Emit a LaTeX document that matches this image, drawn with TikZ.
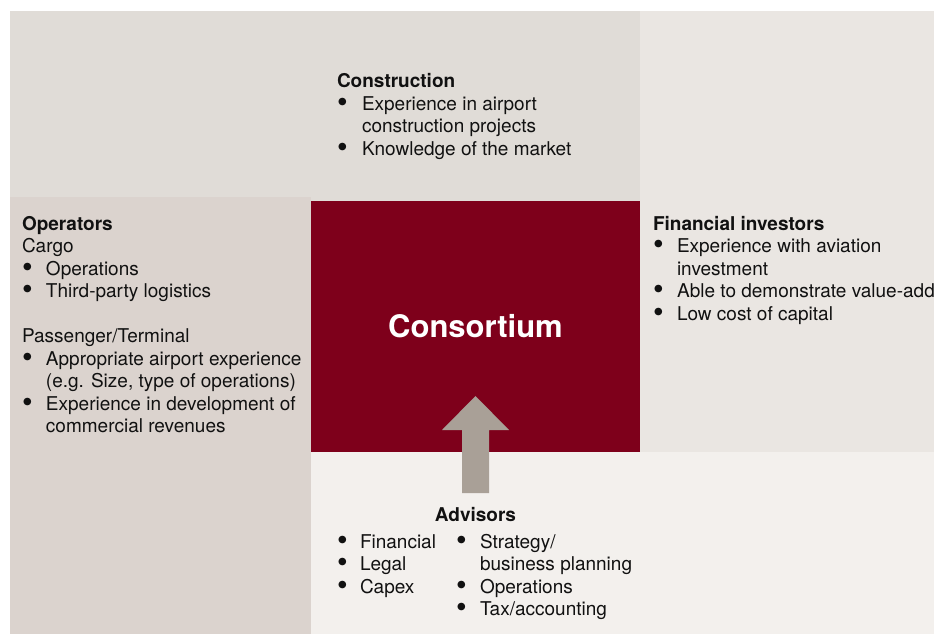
\documentclass[tikz,border=0pt]{standalone}
\usepackage{fontspec}
\usepackage{graphicx}
\setmainfont{TeX Gyre Heros}
\definecolor{topc}{HTML}{E0DCD7}
\definecolor{leftc}{HTML}{DBD3CE}
\definecolor{rightc}{HTML}{EAE6E2}
\definecolor{botc}{HTML}{F3F0ED}
\definecolor{redc}{HTML}{7E001B}
\definecolor{arrowc}{HTML}{A9A097}
\definecolor{txt}{HTML}{111111}
\newcommand{\bl}{\kern-1.5pt\smash{\raisebox{-3.9pt}{\scalebox{1.6}{\textbullet}}}}
\begin{document}
\begin{tikzpicture}[x=1pt,y=-1pt,
  region/.style={rectangle,inner sep=0pt,outer sep=0pt,anchor=north west,draw=none},
  block/.style={anchor=base west,inner sep=0pt,outer sep=0pt,text=txt,
    font=\fontsize{19}{22.5}\selectfont},
  head/.style={anchor=base,inner sep=0pt,outer sep=0pt,text=txt,
    font=\fontsize{19}{22.5}\selectfont\bfseries}]
\clip (0,0) rectangle (934,634);
\fill[white] (0,0) rectangle (934,634);
% regions
\node[region,fill=topc,minimum width=630pt,minimum height=190pt] (top) at (10,11) {};
\node[region,fill=rightc,minimum width=294pt,minimum height=441pt] (right) at (640,11) {};
\node[region,fill=leftc,minimum width=301pt,minimum height=437pt] (left) at (10,197) {};
\node[region,fill=botc,minimum width=623pt,minimum height=182pt] (bottom) at (311,452) {};
\node[region,fill=redc,minimum width=329pt,minimum height=251pt] (center) at (311,201) {};
% arrow
\fill[arrowc] (462,493) -- (462,430) -- (442,430) -- (475.5,396) -- (509,430) -- (489,430) -- (489,493) -- cycle;
% center label
\node[anchor=base,inner sep=0pt,text=white,font=\fontsize{31}{36}\selectfont\bfseries] (cons) at (475.5,337) {Consortium};
% construction
\node[block] (constr) at (337,88) {\begin{tabular}[t]{@{}p{25pt}@{}l@{}}
\multicolumn{2}{@{}l@{}}{\bfseries Construction}\\
\bl & Experience in airport\\
 & construction projects\\
\bl & Knowledge of the market
\end{tabular}};
% operators
\node[block] (oper) at (22,230) {\begin{tabular}[t]{@{}p{24pt}@{}l@{}}
\multicolumn{2}{@{}l@{}}{\bfseries Operators}\\
\multicolumn{2}{@{}l@{}}{Cargo}\\
\bl & Operations\\
\bl & Third-party logistics\\
 & \\
\multicolumn{2}{@{}l@{}}{Passenger/Terminal}\\
\bl & Appropriate airport experience\\
 & (e.g. Size, type of operations)\\
\bl & Experience in development of\\
 & commercial revenues
\end{tabular}};
% financial investors
\node[block] (fin) at (653,230) {\begin{tabular}[t]{@{}p{24pt}@{}l@{}}
\multicolumn{2}{@{}l@{}}{\bfseries Financial investors}\\
\bl & Experience with aviation\\
 & investment\\
\bl & Able to demonstrate value-add\\
\bl & Low cost of capital
\end{tabular}};
% advisors
\node[head] (adv) at (475.5,521) {Advisors};
\node[block] (advl) at (337,548) {\begin{tabular}[t]{@{}p{23pt}@{}l@{}}
\bl & Financial\\
\bl & Legal\\
\bl & Capex
\end{tabular}};
\node[block] (advr) at (456,548) {\begin{tabular}[t]{@{}p{24pt}@{}l@{}}
\bl & Strategy/\\
 & business planning\\
\bl & Operations\\
\bl & Tax/accounting
\end{tabular}};
\end{tikzpicture}
\end{document}
